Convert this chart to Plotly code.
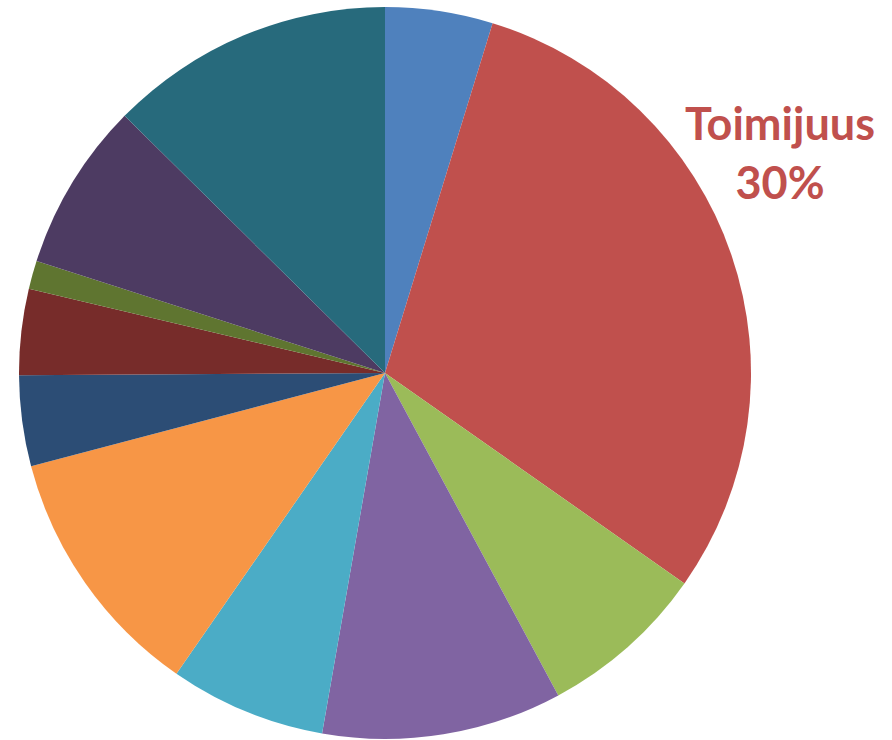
import plotly.graph_objects as go

labels = ["Luokka 1", "Toimijuus", "Luokka 3", "Luokka 4", "Luokka 5", "Luokka 6",
          "Luokka 7", "Luokka 8", "Luokka 9", "Luokka 10", "Luokka 11"]
values = [4.75, 30.0, 7.4, 10.6, 6.9, 11.25, 4.0, 3.8, 1.25, 7.45, 12.6]
colors = ["#4F81BD", "#C0504D", "#9BBB59", "#8064A2", "#4BACC6", "#F79646",
          "#2C4D75", "#772C2A", "#5F7530", "#4D3B62", "#276A7C"]

shown_label = "Toimijuus"
shown_pct = "30%"

fig = go.Figure(go.Pie(
    labels=labels,
    values=values,
    sort=False,
    direction="clockwise",
    rotation=0,
    marker=dict(colors=colors, line=dict(width=0)),
    textinfo="none",
    hoverinfo="label+percent",
    domain=dict(x=[(385 - 366) / 892, (385 + 366) / 892],
                y=[(367 - 366) / 740, (367 + 366) / 740]),
    showlegend=False,
))

fig.add_annotation(
    x=780 / 892, y=1 - 152 / 740, xref="paper", yref="paper",
    xanchor="center", yanchor="middle",
    text=f"<b>{shown_label}<br>{shown_pct}</b>",
    showarrow=False,
    font=dict(family="Lato", size=45, color="#C0504D"),
    align="center",
)

fig.update_layout(
    width=892, height=740,
    margin=dict(l=0, r=0, t=0, b=0),
    paper_bgcolor="white",
    plot_bgcolor="white",
)

fig.write_html("out.html", config={"displayModeBar": False},
               post_script="document.body.style.margin='0';document.body.style.overflow='hidden';")
